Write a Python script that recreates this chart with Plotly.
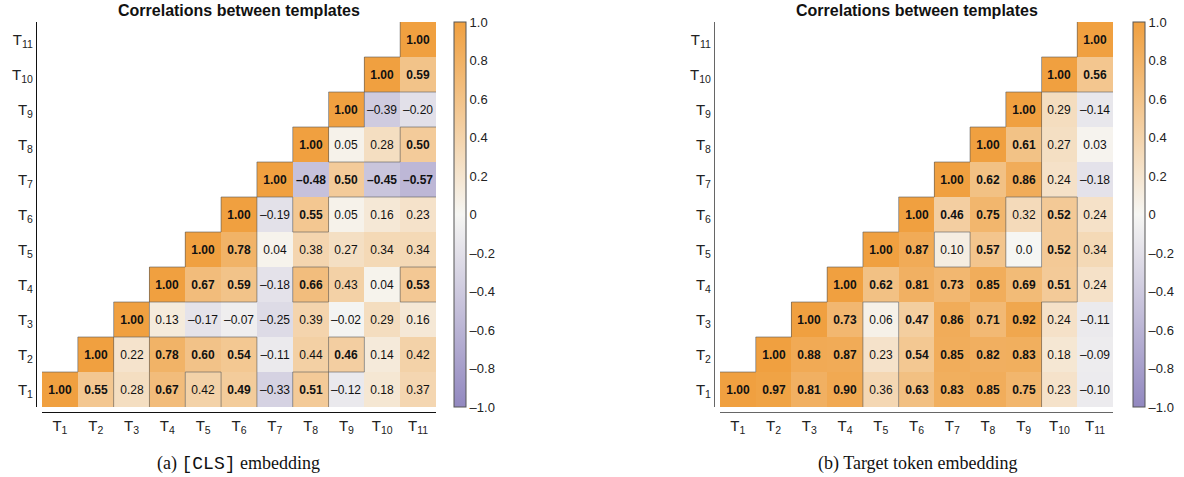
import plotly.graph_objects as go

# ---------------- data ----------------
labels = [f"T<sub>{i}</sub>" for i in range(1, 12)]

# upper-triangular rows: row Ti holds values for columns Ti..T11
cls_rows = [
    [1.00, 0.55, 0.28, 0.67, 0.42, 0.49, -0.33, 0.51, -0.12, 0.18, 0.37],
    [1.00, 0.22, 0.78, 0.60, 0.54, -0.11, 0.44, 0.46, 0.14, 0.42],
    [1.00, 0.13, -0.17, -0.07, -0.25, 0.39, -0.02, 0.29, 0.16],
    [1.00, 0.67, 0.59, -0.18, 0.66, 0.43, 0.04, 0.53],
    [1.00, 0.78, 0.04, 0.38, 0.27, 0.34, 0.34],
    [1.00, -0.19, 0.55, 0.05, 0.16, 0.23],
    [1.00, -0.48, 0.50, -0.45, -0.57],
    [1.00, 0.05, 0.28, 0.50],
    [1.00, -0.39, -0.20],
    [1.00, 0.59],
    [1.00],
]
target_rows = [
    [1.00, 0.97, 0.81, 0.90, 0.36, 0.63, 0.83, 0.85, 0.75, 0.23, -0.10],
    [1.00, 0.88, 0.87, 0.23, 0.54, 0.85, 0.82, 0.83, 0.18, -0.09],
    [1.00, 0.73, 0.06, 0.47, 0.86, 0.71, 0.92, 0.24, -0.11],
    [1.00, 0.62, 0.81, 0.73, 0.85, 0.69, 0.51, 0.24],
    [1.00, 0.87, 0.10, 0.57, 0.0, 0.52, 0.34],
    [1.00, 0.46, 0.75, 0.32, 0.52, 0.24],
    [1.00, 0.62, 0.86, 0.24, -0.18],
    [1.00, 0.61, 0.27, 0.03],
    [1.00, 0.29, -0.14],
    [1.00, 0.56],
    [1.00],
]
bold_threshold = 0.45
cbar_vals = [1.0, 0.8, 0.6, 0.4, 0.2, 0.0, -0.2, -0.4, -0.6, -0.8, -1.0]
cbar_text = ["1.0", "0.8", "0.6", "0.4", "0.2", "0", "–0.2", "–0.4", "–0.6", "–0.8", "–1.0"]
title_text = "Correlations between templates"

n = len(labels)
colorscale = [[0.0, "rgb(146,136,192)"], [0.5, "rgb(246,246,243)"], [1.0, "rgb(240,160,64)"]]
FONT = "Liberation Sans, Arial"


def build(rows):
    z = [[None] * n for _ in range(n)]
    txt = [[""] * n for _ in range(n)]
    cls = [[-1] * n for _ in range(n)]
    for i, r in enumerate(rows):
        for k, v in enumerate(r):
            j = i + k
            z[i][j] = v
            s = "0.0" if v == 0 else f"{v:.2f}".replace("-", "–")
            if abs(v) >= bold_threshold:
                txt[i][j] = f"<b>{s}</b>"
                cls[i][j] = 1
            else:
                txt[i][j] = s
                cls[i][j] = 0
    # boundary segments between differing classes
    xs, ys = [], []
    for i in range(n):
        for j in range(n):
            if j + 1 < n and cls[i][j] != cls[i][j + 1]:
                xs += [j + 0.5, j + 0.5, None]
                ys += [i - 0.5, i + 0.5, None]
            if i + 1 < n and cls[i][j] != cls[i + 1][j]:
                xs += [j - 0.5, j + 0.5, None]
                ys += [i + 0.5, i + 0.5, None]
    return z, txt, xs, ys


W, H = 1184, 477
fig = go.Figure()

panels = [
    dict(rows=cls_rows, xa="x", ya="y", x0=42, x1=436, yline=36, cbx=454, linecol="#111"),
    dict(rows=target_rows, xa="x2", ya="y2", x0=720, x1=1113, yline=714, cbx=1133, linecol="#666"),
]
top, bot = 22, 407

for idx, p in enumerate(panels):
    z, txt, xs, ys = build(p["rows"])
    fig.add_trace(go.Heatmap(
        z=z, x=list(range(n)), y=list(range(n)), text=txt, texttemplate="%{text}",
        textfont=dict(family=FONT, size=12, color="#111"),
        colorscale=colorscale, zmin=-1, zmax=1, xaxis=p["xa"], yaxis=p["ya"],
        hoverinfo="skip",
        colorbar=dict(x=p["cbx"] / W, xanchor="left", xpad=0, ypad=0,
                      y=1 - (top + bot) / 2 / H, yanchor="middle",
                      len=(bot - top) / H, lenmode="fraction", thickness=12,
                      outlinewidth=1, outlinecolor="#555",
                      tickvals=cbar_vals, ticktext=cbar_text, ticks="",
                      tickfont=dict(family=FONT, size=13, color="#222")),
    ))
    fig.add_trace(go.Scatter(
        x=xs, y=ys, mode="lines", xaxis=p["xa"], yaxis=p["ya"],
        line=dict(color="rgba(90,90,90,0.6)", width=1), hoverinfo="skip", showlegend=False,
    ))
    sfx = "" if idx == 0 else "2"
    fig.update_layout(**{
        f"xaxis{sfx}": dict(domain=[p["x0"] / W, p["x1"] / W], range=[-0.5, n - 0.5],
                            anchor="free", position=(H - 412) / H,
                            tickvals=list(range(n)), ticktext=labels, ticks="",
                            showgrid=False, zeroline=False, showline=True,
                            linecolor=p["linecol"], linewidth=1.2, automargin=False,
                            tickfont=dict(family=FONT, size=15, color="#222")),
        f"yaxis{sfx}": dict(domain=[(H - bot) / H, (H - top) / H], range=[-0.5, n - 0.5],
                            anchor="free", position=p["yline"] / W,
                            tickvals=list(range(n)), ticktext=labels, ticks="",
                            showgrid=False, zeroline=False, showline=True,
                            linecolor=p["linecol"], linewidth=1.2, automargin=False,
                            tickfont=dict(family=FONT, size=15, color="#222")),
    })
    fig.add_annotation(text=f"<b>{title_text}</b>", xref="paper", yref="paper",
                       x=(p["x0"] + p["x1"]) / 2 / W, y=1 - 11 / H, xanchor="center",
                       yanchor="middle", showarrow=False,
                       font=dict(family=FONT, size=16, color="#111"))

captions = [
    "(a) <span style='font-family:Liberation Mono'>[CLS]</span> embedding",
    "(b) Target token embedding",
]
for cap, cx in zip(captions, [238, 918]):
    fig.add_annotation(text=cap, xref="paper", yref="paper", x=cx / W, y=1 - 463 / H,
                       xanchor="center", yanchor="middle", showarrow=False,
                       font=dict(family="Liberation Serif, Times New Roman", size=18, color="#111"))

fig.update_layout(width=W, height=H, margin=dict(l=0, r=0, t=0, b=0),
                  paper_bgcolor="white", plot_bgcolor="white", showlegend=False)

fig.write_html("out.html", config={"displayModeBar": False},
               post_script="document.body.style.margin='0';document.body.style.overflow='hidden';")
